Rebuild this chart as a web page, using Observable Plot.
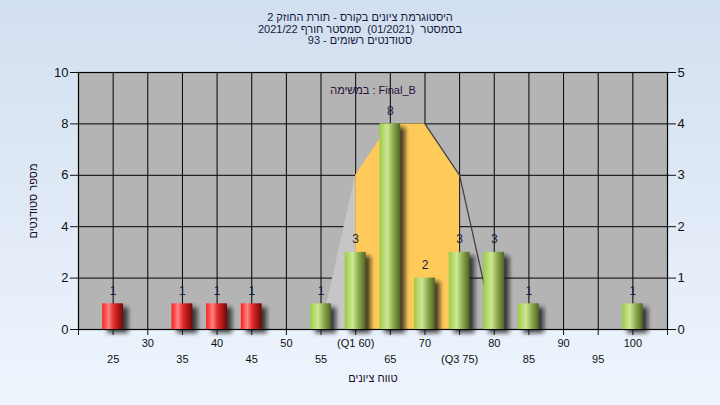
<!DOCTYPE html>
<html><head><meta charset="utf-8">
<script src="https://cdn.jsdelivr.net/npm/d3@7"></script>
<script src="https://cdn.jsdelivr.net/npm/@observablehq/plot@0.6"></script>
<style>
html,body{margin:0;padding:0;}
body{width:720px;height:405px;overflow:hidden;background:linear-gradient(to bottom,#d2dff0,#eef5fd);position:relative;font-family:"Liberation Sans",Arial,sans-serif;}
#title{position:absolute;top:12px;left:0;width:720px;text-align:center;font-size:11px;line-height:11.5px;color:#17173f;white-space:pre;}
#chart{position:absolute;top:0;left:0;}
svg{background:transparent;}
</style></head><body>
<div id="title"></div><div id="chart"></div>
<script>
// ---- data ----
const titleLines = [
  "היסטוגרמת ציונים בקורס - תורת החוזק 2",
  "בסמסטר  (01/2021)  סמסטר חורף 2021/22",
  "סטודנטים רשומים - 93"
];
const grades = [25, 35, 40, 45, 55, 60, 65, 70, 75, 80, 85, 100];
const counts = [1, 1, 1, 1, 1, 3, 8, 2, 3, 3, 1, 1];
const passMark = 55;
const taskLabel = "במשימה : Final_B";
const xLabel = "טווח ציונים";
const yLabel = "מספר סטודנטים";
// quartile shape
const boxX = [60, 65, 70, 75];
const boxY = [6, 8, 8, 6];
const leftWhiskerX = [55, 60];
const leftWhiskerY = [0, 6];
const rightEdgeX = [70, 75, 80];
const rightEdgeY = [8, 6, 0];
// axes
const xTickMarks = [20,25,30,35,40,45,50,55,60,65,70,75,80,85,90,95,100,105];
const xGrid = [25,30,35,40,45,50,55,60,65,70,75,80,85,90,95,100];
const upperTicks = [30, 40, 50, 60, 70, 80, 90, 100];
const upperLabels = ["30", "40", "50", "(Q1 60)", "70", "80", "90", "100"];
const lowerTicks = [25, 35, 45, 55, 65, 75, 85, 95];
const lowerLabels = ["25", "35", "45", "55", "65", "(Q3 75)", "85", "95"];
const yTicks = [0, 2, 4, 6, 8, 10];
const yGrid = [2, 4, 6, 8];

const titleEl = document.getElementById("title");
titleLines.forEach(s => { const d = document.createElement("div"); d.dir = "rtl"; d.textContent = s; titleEl.appendChild(d); });

const bars = grades.map((g, i) => ({g, n: counts[i]}));
const box = boxX.map((x, i) => ({x, y: boxY[i]}));
const lw = leftWhiskerX.map((x, i) => ({x, y: leftWhiskerY[i]}));
const re = rightEdgeX.map((x, i) => ({x, y: rightEdgeY[i]}));
const halfW = 1.5;
const txt = "#1a1a48";

const svg = Plot.plot({
  width: 720, height: 405,
  marginLeft: 78, marginRight: 53, marginTop: 72, marginBottom: 76,
  style: {fontFamily: "Liberation Sans, Arial, sans-serif", background: "transparent", color: "#111"},
  x: {domain: [20, 105], axis: null},
  y: {domain: [0, 10], axis: null},
  marks: [
    Plot.frame({fill: "#b4b4b4", stroke: null}),
    Plot.gridX(xGrid, {stroke: "#000", strokeOpacity: 1, strokeWidth: 1}),
    Plot.gridY(yGrid, {stroke: "#000", strokeOpacity: 1, strokeWidth: 1}),
    Plot.areaY(lw, {x: "x", y: "y", fill: "#c6c6c6"}),
    Plot.areaY(box, {x: "x", y: "y", fill: "#fecb5a"}),
    Plot.line(re, {x: "x", y: "y", stroke: "#444", strokeWidth: 1.3}),
    Plot.frame({stroke: "#000", strokeWidth: 1.2}),
    // shadows
    Plot.rectY(bars, {x1: d => d.g - halfW, x2: d => d.g + halfW, y: "n", dx: 5, dy: 4, fill: "#151515", fillOpacity: 0.75}),
    Plot.rectY(bars, {filter: d => d.g < passMark, x1: d => d.g - halfW, x2: d => d.g + halfW, y: "n", fill: "url(#gRed)"}),
    Plot.rectY(bars, {filter: d => d.g >= passMark, x1: d => d.g - halfW, x2: d => d.g + halfW, y: "n", fill: "url(#gGreen)"}),
    Plot.text(bars, {x: "g", y: "n", text: d => String(d.n), dy: -13, fontSize: 12, fill: txt}),
    // axes
    Plot.axisY({anchor: "left", ticks: yTicks, tickSize: 8, tickPadding: 2, fontSize: 13, label: null, color: "#111"}),
    Plot.axisY({anchor: "right", ticks: yTicks, tickSize: 8, tickPadding: 2, fontSize: 13, label: null, tickFormat: d => d / 2, color: "#111"}),
    Plot.axisX({ticks: xTickMarks, tickSize: 6, tickFormat: () => "", label: null}),
    Plot.ruleY([0], {stroke: "#000", strokeWidth: 1.2}),
    Plot.text(upperTicks, {x: d => d, text: (d, i) => upperLabels[i], frameAnchor: "bottom", dy: 17, fontSize: 11, fill: "#111"}),
    Plot.text(lowerTicks, {x: d => d, text: (d, i) => lowerLabels[i], frameAnchor: "bottom", dy: 33, fontSize: 11, fill: "#111"}),
    Plot.text([xLabel], {text: d => d, frameAnchor: "bottom", dy: 52, fontSize: 11, fill: "#200828"}),
    Plot.text([yLabel], {text: d => d, frameAnchor: "left", textAnchor: "middle", dx: -45, rotate: -90, fontSize: 11, fill: "#200828"}),
    Plot.text([taskLabel], {text: d => d, frameAnchor: "top", dy: 14, fontSize: 11, fill: "#2a0f3a"})
  ]
});

const defs = d3.select(svg).insert("defs", ":first-child");
const red = defs.append("linearGradient").attr("id", "gRed").attr("x1", 0).attr("x2", 1).attr("y1", 0).attr("y2", 0);
[[0, "#ff1a1a"], [0.3, "#ff8484"], [0.55, "#e42a2a"], [1, "#760606"]].forEach(([o, c]) => red.append("stop").attr("offset", o).attr("stop-color", c));
const green = defs.append("linearGradient").attr("id", "gGreen").attr("x1", 0).attr("x2", 1).attr("y1", 0).attr("y2", 0);
[[0, "#9ccb44"], [0.38, "#cde894"], [0.68, "#8aa84a"], [1, "#4f6326"]].forEach(([o, c]) => green.append("stop").attr("offset", o).attr("stop-color", c));
const f = defs.append("filter").attr("id", "blur").attr("x", "-50%").attr("y", "-20%").attr("width", "200%").attr("height", "140%");
f.append("feGaussianBlur").attr("stdDeviation", 2);
d3.select(svg).selectAll("g[fill='#151515']").attr("filter", "url(#blur)");

document.getElementById("chart").appendChild(svg);
</script>
</body></html>
